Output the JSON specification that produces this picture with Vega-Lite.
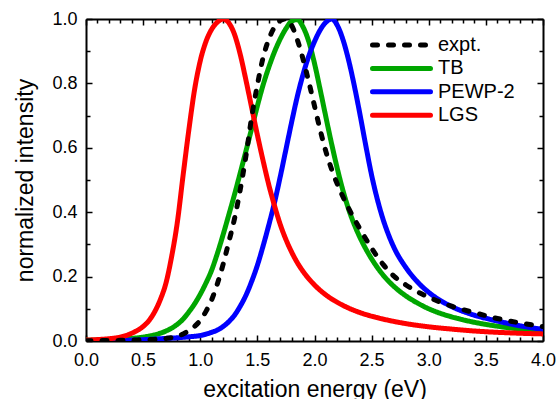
{
  "$schema": "https://vega.github.io/schema/vega-lite/v6.json",
  "width": 457,
  "height": 322,
  "autosize": {"type": "none"},
  "padding": {"left": 86, "top": 19, "right": 13, "bottom": 58},
  "config": {
    "view": {"stroke": null},
    "font": "Liberation Sans",
    "axis": {"domainColor": "black", "domainWidth": 2, "labelColor": "black", "titleColor": "black", "labelFlush": false, "labelOverlap": false, "titleFontWeight": "normal"}
  },
  "data": {
    "values": [
      {"series": "TB", "energy": 0.0, "intensity": 0.002},
      {"series": "TB", "energy": 0.2, "intensity": 0.004},
      {"series": "TB", "energy": 0.3, "intensity": 0.005},
      {"series": "TB", "energy": 0.4, "intensity": 0.008},
      {"series": "TB", "energy": 0.5, "intensity": 0.012},
      {"series": "TB", "energy": 0.6, "intensity": 0.019},
      {"series": "TB", "energy": 0.7, "intensity": 0.031},
      {"series": "TB", "energy": 0.75, "intensity": 0.04},
      {"series": "TB", "energy": 0.8, "intensity": 0.052},
      {"series": "TB", "energy": 0.85, "intensity": 0.068},
      {"series": "TB", "energy": 0.9, "intensity": 0.09},
      {"series": "TB", "energy": 0.95, "intensity": 0.115},
      {"series": "TB", "energy": 1.0, "intensity": 0.145},
      {"series": "TB", "energy": 1.05, "intensity": 0.18},
      {"series": "TB", "energy": 1.1, "intensity": 0.22},
      {"series": "TB", "energy": 1.15, "intensity": 0.272},
      {"series": "TB", "energy": 1.2, "intensity": 0.33},
      {"series": "TB", "energy": 1.25, "intensity": 0.392},
      {"series": "TB", "energy": 1.3, "intensity": 0.455},
      {"series": "TB", "energy": 1.35, "intensity": 0.522},
      {"series": "TB", "energy": 1.4, "intensity": 0.59},
      {"series": "TB", "energy": 1.45, "intensity": 0.66},
      {"series": "TB", "energy": 1.5, "intensity": 0.73},
      {"series": "TB", "energy": 1.55, "intensity": 0.795},
      {"series": "TB", "energy": 1.6, "intensity": 0.85},
      {"series": "TB", "energy": 1.65, "intensity": 0.898},
      {"series": "TB", "energy": 1.7, "intensity": 0.938},
      {"series": "TB", "energy": 1.75, "intensity": 0.97},
      {"series": "TB", "energy": 1.8, "intensity": 0.993},
      {"series": "TB", "energy": 1.85, "intensity": 0.998},
      {"series": "TB", "energy": 1.9, "intensity": 0.975},
      {"series": "TB", "energy": 1.95, "intensity": 0.93},
      {"series": "TB", "energy": 2.0, "intensity": 0.862},
      {"series": "TB", "energy": 2.05, "intensity": 0.78},
      {"series": "TB", "energy": 2.1, "intensity": 0.695},
      {"series": "TB", "energy": 2.15, "intensity": 0.612},
      {"series": "TB", "energy": 2.2, "intensity": 0.535},
      {"series": "TB", "energy": 2.25, "intensity": 0.466},
      {"series": "TB", "energy": 2.3, "intensity": 0.408},
      {"series": "TB", "energy": 2.35, "intensity": 0.36},
      {"series": "TB", "energy": 2.4, "intensity": 0.32},
      {"series": "TB", "energy": 2.5, "intensity": 0.255},
      {"series": "TB", "energy": 2.6, "intensity": 0.205},
      {"series": "TB", "energy": 2.7, "intensity": 0.168},
      {"series": "TB", "energy": 2.8, "intensity": 0.14},
      {"series": "TB", "energy": 2.9, "intensity": 0.118},
      {"series": "TB", "energy": 3.0, "intensity": 0.1},
      {"series": "TB", "energy": 3.2, "intensity": 0.075},
      {"series": "TB", "energy": 3.4, "intensity": 0.058},
      {"series": "TB", "energy": 3.6, "intensity": 0.046},
      {"series": "TB", "energy": 3.8, "intensity": 0.037},
      {"series": "TB", "energy": 4.0, "intensity": 0.03},
      {"series": "PEWP-2", "energy": 0.0, "intensity": 0.001},
      {"series": "PEWP-2", "energy": 0.3, "intensity": 0.002},
      {"series": "PEWP-2", "energy": 0.5, "intensity": 0.004},
      {"series": "PEWP-2", "energy": 0.6, "intensity": 0.006},
      {"series": "PEWP-2", "energy": 0.7, "intensity": 0.008},
      {"series": "PEWP-2", "energy": 0.8, "intensity": 0.01},
      {"series": "PEWP-2", "energy": 0.9, "intensity": 0.013},
      {"series": "PEWP-2", "energy": 1.0, "intensity": 0.017},
      {"series": "PEWP-2", "energy": 1.1, "intensity": 0.027},
      {"series": "PEWP-2", "energy": 1.15, "intensity": 0.034},
      {"series": "PEWP-2", "energy": 1.2, "intensity": 0.045},
      {"series": "PEWP-2", "energy": 1.25, "intensity": 0.06},
      {"series": "PEWP-2", "energy": 1.3, "intensity": 0.08},
      {"series": "PEWP-2", "energy": 1.35, "intensity": 0.108},
      {"series": "PEWP-2", "energy": 1.4, "intensity": 0.142},
      {"series": "PEWP-2", "energy": 1.45, "intensity": 0.185},
      {"series": "PEWP-2", "energy": 1.5, "intensity": 0.235},
      {"series": "PEWP-2", "energy": 1.55, "intensity": 0.295},
      {"series": "PEWP-2", "energy": 1.6, "intensity": 0.36},
      {"series": "PEWP-2", "energy": 1.65, "intensity": 0.43},
      {"series": "PEWP-2", "energy": 1.7, "intensity": 0.51},
      {"series": "PEWP-2", "energy": 1.75, "intensity": 0.595},
      {"series": "PEWP-2", "energy": 1.8, "intensity": 0.68},
      {"series": "PEWP-2", "energy": 1.85, "intensity": 0.76},
      {"series": "PEWP-2", "energy": 1.9, "intensity": 0.828},
      {"series": "PEWP-2", "energy": 1.95, "intensity": 0.885},
      {"series": "PEWP-2", "energy": 2.0, "intensity": 0.93},
      {"series": "PEWP-2", "energy": 2.05, "intensity": 0.966},
      {"series": "PEWP-2", "energy": 2.1, "intensity": 0.99},
      {"series": "PEWP-2", "energy": 2.15, "intensity": 1.0},
      {"series": "PEWP-2", "energy": 2.2, "intensity": 0.98},
      {"series": "PEWP-2", "energy": 2.25, "intensity": 0.935},
      {"series": "PEWP-2", "energy": 2.3, "intensity": 0.87},
      {"series": "PEWP-2", "energy": 2.35, "intensity": 0.79},
      {"series": "PEWP-2", "energy": 2.4, "intensity": 0.7},
      {"series": "PEWP-2", "energy": 2.45, "intensity": 0.605},
      {"series": "PEWP-2", "energy": 2.5, "intensity": 0.515},
      {"series": "PEWP-2", "energy": 2.55, "intensity": 0.44},
      {"series": "PEWP-2", "energy": 2.6, "intensity": 0.378},
      {"series": "PEWP-2", "energy": 2.65, "intensity": 0.328},
      {"series": "PEWP-2", "energy": 2.7, "intensity": 0.287},
      {"series": "PEWP-2", "energy": 2.8, "intensity": 0.228},
      {"series": "PEWP-2", "energy": 2.9, "intensity": 0.184},
      {"series": "PEWP-2", "energy": 3.0, "intensity": 0.151},
      {"series": "PEWP-2", "energy": 3.1, "intensity": 0.126},
      {"series": "PEWP-2", "energy": 3.2, "intensity": 0.107},
      {"series": "PEWP-2", "energy": 3.4, "intensity": 0.08},
      {"series": "PEWP-2", "energy": 3.6, "intensity": 0.062},
      {"series": "PEWP-2", "energy": 3.8, "intensity": 0.047},
      {"series": "PEWP-2", "energy": 4.0, "intensity": 0.036},
      {"series": "LGS", "energy": 0.0, "intensity": 0.003},
      {"series": "LGS", "energy": 0.1, "intensity": 0.0045},
      {"series": "LGS", "energy": 0.2, "intensity": 0.007},
      {"series": "LGS", "energy": 0.3, "intensity": 0.012},
      {"series": "LGS", "energy": 0.35, "intensity": 0.017},
      {"series": "LGS", "energy": 0.4, "intensity": 0.024},
      {"series": "LGS", "energy": 0.45, "intensity": 0.033},
      {"series": "LGS", "energy": 0.5, "intensity": 0.045},
      {"series": "LGS", "energy": 0.55, "intensity": 0.063},
      {"series": "LGS", "energy": 0.6, "intensity": 0.09},
      {"series": "LGS", "energy": 0.65, "intensity": 0.128},
      {"series": "LGS", "energy": 0.7, "intensity": 0.18},
      {"series": "LGS", "energy": 0.75, "intensity": 0.263},
      {"series": "LGS", "energy": 0.8, "intensity": 0.37},
      {"series": "LGS", "energy": 0.85, "intensity": 0.515},
      {"series": "LGS", "energy": 0.9, "intensity": 0.655},
      {"series": "LGS", "energy": 0.95, "intensity": 0.78},
      {"series": "LGS", "energy": 1.0, "intensity": 0.87},
      {"series": "LGS", "energy": 1.05, "intensity": 0.93},
      {"series": "LGS", "energy": 1.1, "intensity": 0.968},
      {"series": "LGS", "energy": 1.15, "intensity": 0.99},
      {"series": "LGS", "energy": 1.2, "intensity": 1.0},
      {"series": "LGS", "energy": 1.25, "intensity": 0.988},
      {"series": "LGS", "energy": 1.3, "intensity": 0.952},
      {"series": "LGS", "energy": 1.35, "intensity": 0.89},
      {"series": "LGS", "energy": 1.4, "intensity": 0.81},
      {"series": "LGS", "energy": 1.45, "intensity": 0.725},
      {"series": "LGS", "energy": 1.5, "intensity": 0.64},
      {"series": "LGS", "energy": 1.55, "intensity": 0.56},
      {"series": "LGS", "energy": 1.6, "intensity": 0.485},
      {"series": "LGS", "energy": 1.65, "intensity": 0.42},
      {"series": "LGS", "energy": 1.7, "intensity": 0.362},
      {"series": "LGS", "energy": 1.75, "intensity": 0.315},
      {"series": "LGS", "energy": 1.8, "intensity": 0.276},
      {"series": "LGS", "energy": 1.85, "intensity": 0.243},
      {"series": "LGS", "energy": 1.9, "intensity": 0.216},
      {"series": "LGS", "energy": 2.0, "intensity": 0.174},
      {"series": "LGS", "energy": 2.1, "intensity": 0.143},
      {"series": "LGS", "energy": 2.2, "intensity": 0.12},
      {"series": "LGS", "energy": 2.3, "intensity": 0.102},
      {"series": "LGS", "energy": 2.4, "intensity": 0.088},
      {"series": "LGS", "energy": 2.5, "intensity": 0.077},
      {"series": "LGS", "energy": 2.6, "intensity": 0.068},
      {"series": "LGS", "energy": 2.8, "intensity": 0.054},
      {"series": "LGS", "energy": 3.0, "intensity": 0.044},
      {"series": "LGS", "energy": 3.2, "intensity": 0.037},
      {"series": "LGS", "energy": 3.4, "intensity": 0.031},
      {"series": "LGS", "energy": 3.6, "intensity": 0.027},
      {"series": "LGS", "energy": 3.8, "intensity": 0.024},
      {"series": "LGS", "energy": 4.0, "intensity": 0.022},
      {"series": "expt.", "energy": 0.0, "intensity": 0.001},
      {"series": "expt.", "energy": 0.3, "intensity": 0.002},
      {"series": "expt.", "energy": 0.5, "intensity": 0.004},
      {"series": "expt.", "energy": 0.6, "intensity": 0.005},
      {"series": "expt.", "energy": 0.7, "intensity": 0.008},
      {"series": "expt.", "energy": 0.8, "intensity": 0.015},
      {"series": "expt.", "energy": 0.85, "intensity": 0.022},
      {"series": "expt.", "energy": 0.9, "intensity": 0.032},
      {"series": "expt.", "energy": 0.95, "intensity": 0.045},
      {"series": "expt.", "energy": 1.0, "intensity": 0.064},
      {"series": "expt.", "energy": 1.05, "intensity": 0.092},
      {"series": "expt.", "energy": 1.1, "intensity": 0.128},
      {"series": "expt.", "energy": 1.15, "intensity": 0.178},
      {"series": "expt.", "energy": 1.2, "intensity": 0.238},
      {"series": "expt.", "energy": 1.25, "intensity": 0.308},
      {"series": "expt.", "energy": 1.3, "intensity": 0.38},
      {"series": "expt.", "energy": 1.35, "intensity": 0.47},
      {"series": "expt.", "energy": 1.4, "intensity": 0.575},
      {"series": "expt.", "energy": 1.45, "intensity": 0.695},
      {"series": "expt.", "energy": 1.5, "intensity": 0.795},
      {"series": "expt.", "energy": 1.55, "intensity": 0.88},
      {"series": "expt.", "energy": 1.6, "intensity": 0.937},
      {"series": "expt.", "energy": 1.65, "intensity": 0.975},
      {"series": "expt.", "energy": 1.7, "intensity": 0.995},
      {"series": "expt.", "energy": 1.75, "intensity": 1.0},
      {"series": "expt.", "energy": 1.8, "intensity": 0.98},
      {"series": "expt.", "energy": 1.85, "intensity": 0.935},
      {"series": "expt.", "energy": 1.9, "intensity": 0.875},
      {"series": "expt.", "energy": 1.95, "intensity": 0.805},
      {"series": "expt.", "energy": 2.0, "intensity": 0.73},
      {"series": "expt.", "energy": 2.05, "intensity": 0.655},
      {"series": "expt.", "energy": 2.1, "intensity": 0.588},
      {"series": "expt.", "energy": 2.15, "intensity": 0.533},
      {"series": "expt.", "energy": 2.2, "intensity": 0.487},
      {"series": "expt.", "energy": 2.25, "intensity": 0.447},
      {"series": "expt.", "energy": 2.3, "intensity": 0.411},
      {"series": "expt.", "energy": 2.35, "intensity": 0.378},
      {"series": "expt.", "energy": 2.4, "intensity": 0.347},
      {"series": "expt.", "energy": 2.5, "intensity": 0.288},
      {"series": "expt.", "energy": 2.6, "intensity": 0.238},
      {"series": "expt.", "energy": 2.7, "intensity": 0.2},
      {"series": "expt.", "energy": 2.8, "intensity": 0.174},
      {"series": "expt.", "energy": 2.9, "intensity": 0.153},
      {"series": "expt.", "energy": 3.0, "intensity": 0.136},
      {"series": "expt.", "energy": 3.1, "intensity": 0.121},
      {"series": "expt.", "energy": 3.2, "intensity": 0.108},
      {"series": "expt.", "energy": 3.4, "intensity": 0.088},
      {"series": "expt.", "energy": 3.6, "intensity": 0.07},
      {"series": "expt.", "energy": 3.8, "intensity": 0.056},
      {"series": "expt.", "energy": 4.0, "intensity": 0.045}
    ]
  },
  "layer": [
    {
      "mark": {"type": "line", "strokeWidth": 5, "strokeCap": "round", "clip": true, "interpolate": "monotone"},
      "encoding": {
        "x": {
          "field": "energy", "type": "quantitative",
          "scale": {"domain": [0, 4], "nice": false, "zero": false},
          "axis": {
            "orient": "bottom",
            "values": [0, 0.1, 0.2, 0.3, 0.4, 0.5, 0.6, 0.7, 0.8, 0.9, 1, 1.1, 1.2, 1.3, 1.4, 1.5, 1.6, 1.7, 1.8, 1.9, 2, 2.1, 2.2, 2.3, 2.4, 2.5, 2.6, 2.7, 2.8, 2.9, 3, 3.1, 3.2, 3.3, 3.4, 3.5, 3.6, 3.7, 3.8, 3.9, 4],
            "labelExpr": "abs(datum.value*2 - round(datum.value*2)) < 0.001 ? format(datum.value, '.1f') : ''",
            "ticks": false,
            "grid": true,
            "gridColor": "black",
            "gridOpacity": 1,
            "gridWidth": 1.5,
            "gridDash": {"condition": {"test": "abs(datum.value*2 - round(datum.value*2)) < 0.001", "value": [6, 310]}, "value": [4, 314]},
            "labelFontSize": 18,
            "labelPadding": 10,
            "title": "excitation energy (eV)",
            "titleFontSize": 23,
            "titleX": 228.5,
            "titleY": 55,
            "titleBaseline": "alphabetic"
          }
        },
        "y": {
          "field": "intensity", "type": "quantitative",
          "scale": {"domain": [0, 1], "nice": false, "zero": false},
          "axis": {
            "orient": "left",
            "values": [0, 0.1, 0.2, 0.3, 0.4, 0.5, 0.6, 0.7, 0.8, 0.9, 1],
            "labelExpr": "abs(datum.value*5 - round(datum.value*5)) < 0.001 ? format(datum.value, '.1f') : ''",
            "ticks": false,
            "grid": true,
            "gridColor": "black",
            "gridOpacity": 1,
            "gridWidth": 1.5,
            "gridDash": {"condition": {"test": "abs(datum.value*5 - round(datum.value*5)) < 0.001", "value": [6, 445]}, "value": [4, 449]},
            "labelFontSize": 18,
            "labelPadding": 9,
            "title": "normalized intensity",
            "titleFontSize": 23,
            "titleX": -54,
            "titleY": 161,
            "titleAngle": -90,
            "titleAlign": "center",
            "titleBaseline": "alphabetic"
          }
        },
        "color": {
          "field": "series", "type": "nominal",
          "scale": {"domain": ["expt.", "TB", "PEWP-2", "LGS"], "range": ["#000000", "#00a600", "#0000ff", "#ff0000"]},
          "legend": {
            "title": null, "orient": "none", "legendX": 284, "legendY": 16,
            "symbolType": "stroke", "symbolSize": 3364, "symbolStrokeWidth": 5, "clipHeight": 20,
            "labelFontSize": 20, "labelColor": "black", "labelOffset": 5, "rowPadding": 3.4, "padding": 0,
            "encode": {"symbols": {"update": {"strokeCap": {"value": "round"}}}}
          }
        },
        "strokeDash": {
          "field": "series", "type": "nominal",
          "scale": {"domain": ["expt.", "TB", "PEWP-2", "LGS"], "range": [[5, 11], [1, 0], [1, 0], [1, 0]]},
          "legend": {
            "title": null, "orient": "none", "legendX": 284, "legendY": 16,
            "symbolType": "stroke", "symbolSize": 3364, "symbolStrokeWidth": 5, "clipHeight": 20,
            "labelFontSize": 20, "labelColor": "black", "labelOffset": 5, "rowPadding": 3.4, "padding": 0,
            "encode": {"symbols": {"update": {"strokeCap": {"value": "round"}}}}
          }
        }
      }
    },
    {
      "mark": {"type": "line", "opacity": 0},
      "encoding": {
        "x": {
          "field": "energy", "type": "quantitative",
          "scale": {"domain": [0, 4], "nice": false, "zero": false},
          "axis": {"orient": "top", "labels": false, "ticks": false, "grid": false, "title": null, "values": [0, 4]}
        },
        "y": {
          "field": "intensity", "type": "quantitative",
          "scale": {"domain": [0, 1], "nice": false, "zero": false},
          "axis": {"orient": "right", "labels": false, "ticks": false, "grid": false, "title": null, "values": [0, 1]}
        }
      }
    }
  ],
  "resolve": {"axis": {"x": "independent", "y": "independent"}}
}
